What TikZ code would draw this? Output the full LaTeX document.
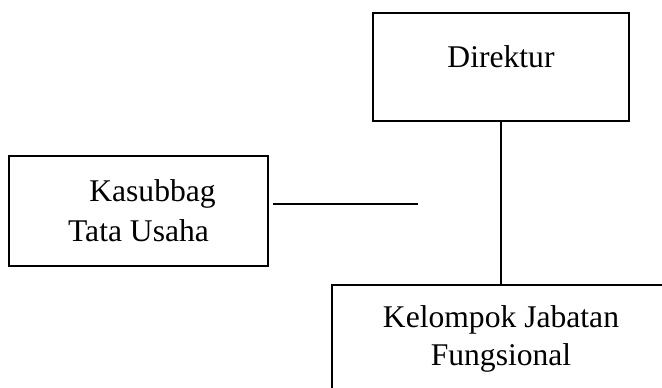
\documentclass[tikz,border=0pt]{standalone}
\usepackage{fontspec}
\setmainfont{Liberation Serif}
\usetikzlibrary{positioning, calc}

\begin{document}
\begin{tikzpicture}[x=0.5pt, y=-0.5pt,
    unitbox/.style={draw=black, line width=1.4pt, inner sep=0pt, align=center, font=\fontsize{15.8}{19}\selectfont},
    link/.style={black, line width=1.4pt}]
	% Canvas
	\useasboundingbox (0,0) rectangle (662,387);

	% Direktur (top)
	\node[unitbox, minimum width=128pt, text height=27pt, text depth=27pt] (direktur) at (501,67) {Direktur};

	% Kasubbag Tata Usaha (left)
	\node[unitbox, minimum width=129.5pt, minimum height=55pt, font=\fontsize{15.8}{20}\selectfont] (kasubbag) at (138.5,211) {\hspace*{14pt}Kasubbag\\Tata Usaha};

	% Kelompok Jabatan Fungsional (bottom, runs off the page)
	\node[unitbox, minimum width=169pt, minimum height=54pt] (fungsional) at (501,339) {Kelompok Jabatan\\Fungsional};

	% Connectors
	\coordinate (tuend) at (418,204);
	\draw[link] (direktur) -- (fungsional);
	\draw[link] ([xshift=2pt]kasubbag.east |- tuend) -- (tuend);

\end{tikzpicture}
\end{document}
